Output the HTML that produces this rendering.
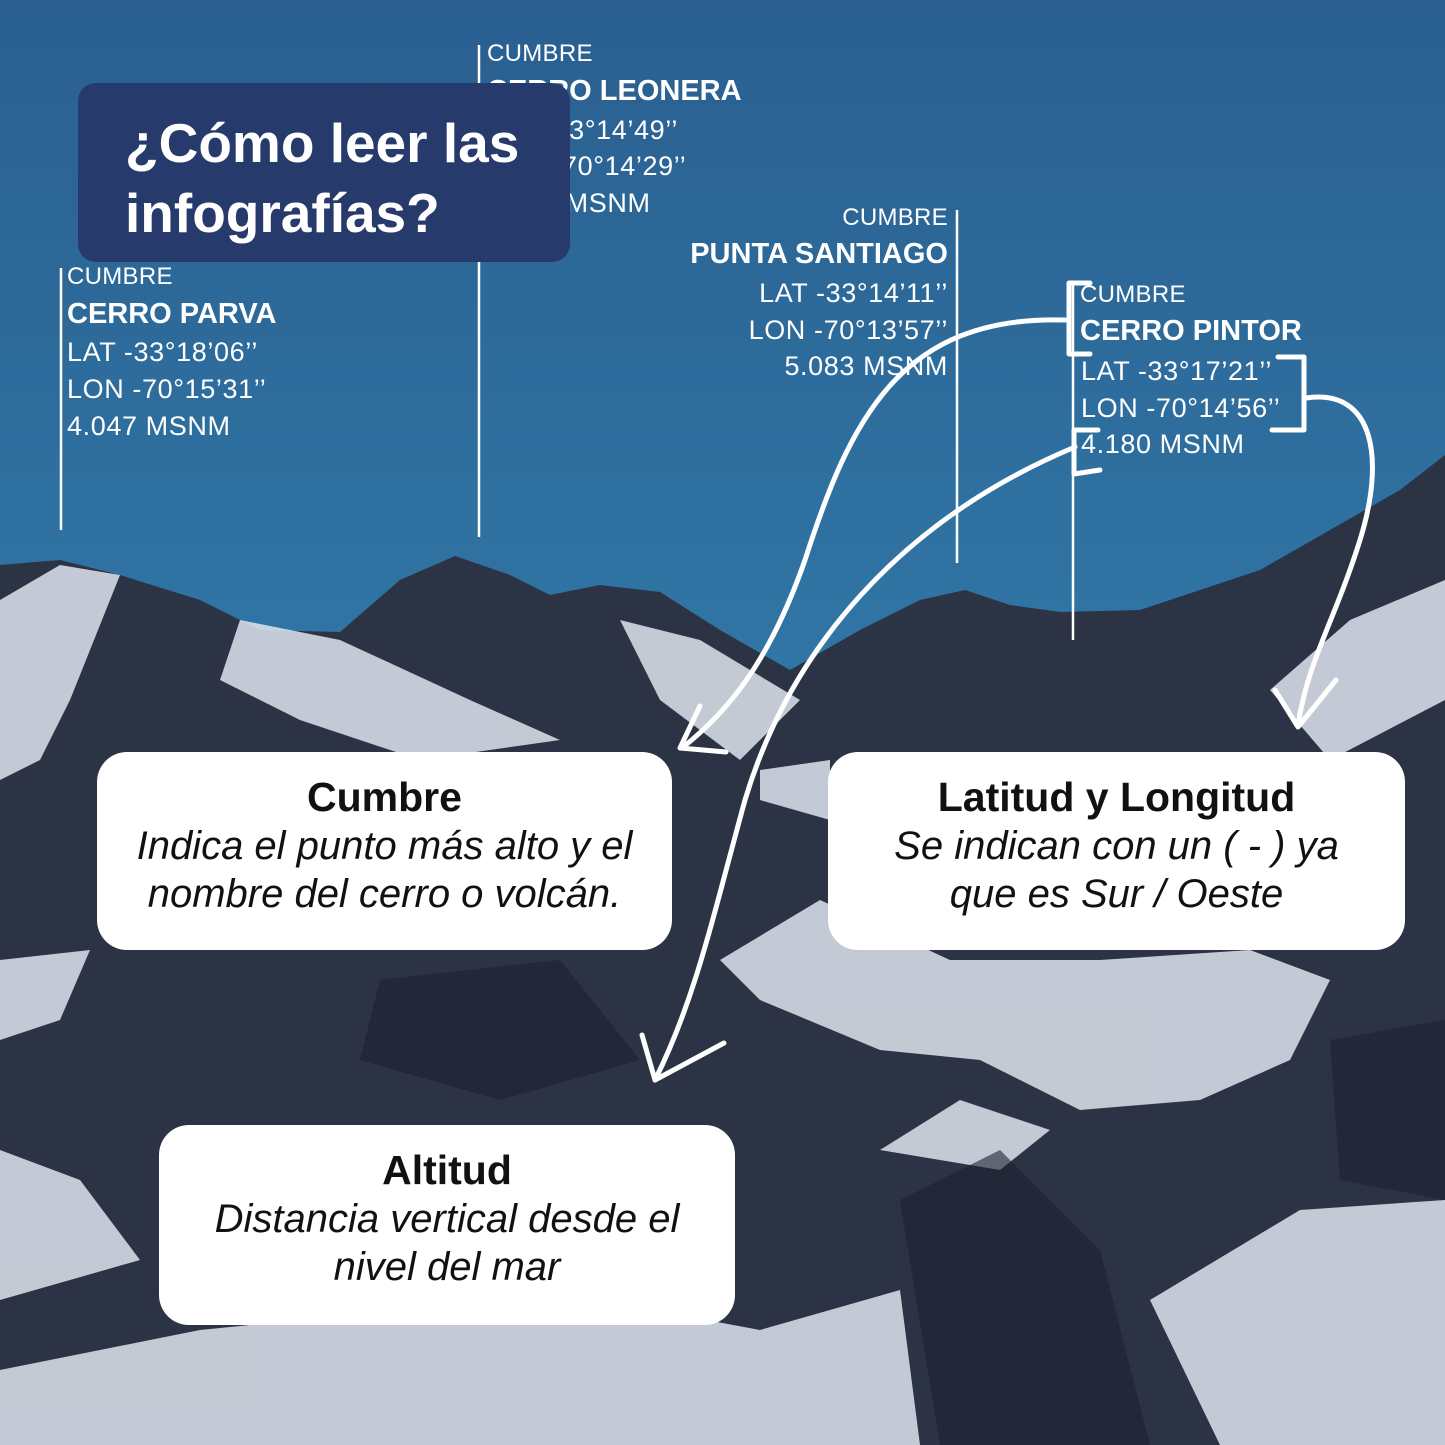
<!DOCTYPE html>
<html><head><meta charset="utf-8"><style>
html,body{margin:0;padding:0}
body{width:1445px;height:1445px;position:relative;overflow:hidden;background:#2e6e9e;font-family:"Liberation Sans",sans-serif}
.t{position:absolute;color:#fff;white-space:nowrap;line-height:1}
.c{font-size:24px;letter-spacing:0.3px}
.n{font-size:29px;font-weight:bold}
.v{font-size:27px;letter-spacing:0.6px}
.box{position:absolute;background:#fff;border-radius:30px;text-align:center;color:#111}
.box h3{margin:0;font-size:41px;font-weight:bold;line-height:1}
.box p{margin:0;font-size:40px;font-style:italic;line-height:48px}
</style></head><body>
<svg width="1445" height="1445" style="position:absolute;left:0;top:0">
<defs><linearGradient id="sky" x1="0" y1="0" x2="0" y2="1"><stop offset="0" stop-color="#2a5f90"/><stop offset="1" stop-color="#3077a6"/></linearGradient></defs>
<rect width="1445" height="700" fill="url(#sky)"/>
<path d="M0,565 L60,560 L120,575 L200,600 L260,630 L340,632 L400,580 L455,556 L510,575 L550,595 L600,585 L660,592 L720,630 L790,670 L860,630 L920,600 L965,590 L1010,605 L1060,612 L1140,610 L1200,590 L1260,570 L1330,530 L1400,490 L1445,455 L1445,1445 L0,1445Z" fill="#2b3344"/>
<g fill="#dfe5ee" opacity="0.85">
<path d="M0,600 L60,565 L120,575 L70,700 L40,760 L0,780Z"/>
<path d="M240,620 L340,640 L470,700 L560,740 L420,760 L300,720 L220,680Z"/>
<path d="M620,620 L700,640 L800,700 L740,760 L660,700Z"/>
<path d="M720,960 L820,900 L950,960 L1100,960 L1250,950 L1330,980 L1290,1060 L1200,1100 L1080,1110 L980,1060 L880,1050 L760,1000Z"/>
<path d="M0,1150 L80,1180 L140,1260 L0,1300Z"/>
<path d="M0,1370 L200,1330 L400,1310 L600,1300 L760,1330 L900,1290 L920,1445 L0,1445Z"/>
<path d="M1150,1300 L1300,1210 L1445,1200 L1445,1445 L1220,1445Z"/>
<path d="M1270,690 L1350,620 L1445,580 L1445,700 L1330,760Z"/>
<path d="M760,770 L830,760 L830,820 L760,800Z"/>
<path d="M0,960 L90,950 L60,1020 L0,1040Z"/>
<path d="M880,1150 L960,1100 L1050,1130 L1000,1170Z"/>
</g>
<g fill="#1c2230" opacity="0.6">
<path d="M380,980 L560,960 L640,1060 L500,1100 L360,1060Z"/>
<path d="M900,1200 L1000,1150 L1100,1250 L1150,1445 L940,1445Z"/>
<path d="M1330,1040 L1445,1020 L1445,1200 L1340,1180Z"/>
</g>
<g stroke="#fff" stroke-width="2.5" fill="none">
<line x1="61" y1="268" x2="61" y2="530"/>
<line x1="479" y1="45" x2="479" y2="537"/>
<line x1="957" y1="210" x2="957" y2="563"/>
<line x1="1073" y1="285" x2="1073" y2="640"/>
</g>
<g stroke="#fff" stroke-width="5" fill="none" stroke-linecap="round" stroke-linejoin="round">
<path d="M1090,283 L1069,283 L1069,354 L1090,354"/>
<path d="M1278,357 L1304,357 L1304,430 L1272,430"/>
<path d="M1098,430 L1074,430 L1074,474 L1100,470"/>
<path d="M1065,320 C 900,315 850,420 805,560 C 770,660 730,710 682,748"/>
<path d="M700,706 L680,748 L726,752"/>
<path d="M1075,447 C 900,520 790,650 745,800 C 712,920 695,1000 655,1080"/>
<path d="M642,1035 L655,1080 L724,1043"/>
<path d="M1306,398 C 1375,388 1385,460 1360,540 C 1335,620 1308,660 1298,725"/>
<path d="M1275,690 L1298,727 L1336,680"/>
</g>
</svg>
<div class="t c" style="left:487px;top:42px">CUMBRE</div>
<div class="t n" style="left:487px;top:77px">CERRO LEONERA</div>
<div class="t v" style="left:487px;top:117px">LAT -33°14’49’’</div>
<div class="t v" style="left:487px;top:153px">LON -70°14’29’’</div>
<div class="t v" style="left:487px;top:190px">4.954 MSNM</div>
<div style="position:absolute;left:78px;top:83px;width:492px;height:179px;background:#263a6b;border-radius:18px"></div>
<div class="t" style="left:125px;top:108px;font-size:55px;font-weight:bold;line-height:70px">¿Cómo leer las<br>infografías?</div>
<div class="t c" style="left:67px;top:265px">CUMBRE</div>
<div class="t n" style="left:67px;top:300px">CERRO PARVA</div>
<div class="t v" style="left:67px;top:339px">LAT -33°18’06’’</div>
<div class="t v" style="left:67px;top:376px">LON -70°15’31’’</div>
<div class="t v" style="left:67px;top:413px">4.047 MSNM</div>
<div class="t c" style="right:497px;top:206px">CUMBRE</div>
<div class="t n" style="right:497px;top:240px">PUNTA SANTIAGO</div>
<div class="t v" style="right:497px;top:280px">LAT -33°14’11’’</div>
<div class="t v" style="right:497px;top:317px">LON -70°13’57’’</div>
<div class="t v" style="right:497px;top:353px">5.083 MSNM</div>
<div class="t c" style="left:1080px;top:283px">CUMBRE</div>
<div class="t n" style="left:1080px;top:317px">CERRO PINTOR</div>
<div class="t v" style="left:1081px;top:358px">LAT -33°17’21’’</div>
<div class="t v" style="left:1081px;top:395px">LON -70°14’56’’</div>
<div class="t v" style="left:1081px;top:431px">4.180 MSNM</div>
<div class="box" style="left:97px;top:752px;width:575px;height:198px"><h3 style="margin-top:25px">Cumbre</h3><p style="margin-top:4px">Indica el punto más alto y el<br>nombre del cerro o volcán.</p></div>
<div class="box" style="left:828px;top:752px;width:577px;height:198px"><h3 style="margin-top:25px">Latitud y Longitud</h3><p style="margin-top:4px">Se indican con un ( - ) ya<br>que es Sur / Oeste</p></div>
<div class="box" style="left:159px;top:1125px;width:576px;height:200px"><h3 style="margin-top:25px">Altitud</h3><p style="margin-top:4px">Distancia vertical desde el<br>nivel del mar</p></div>
</body></html>
